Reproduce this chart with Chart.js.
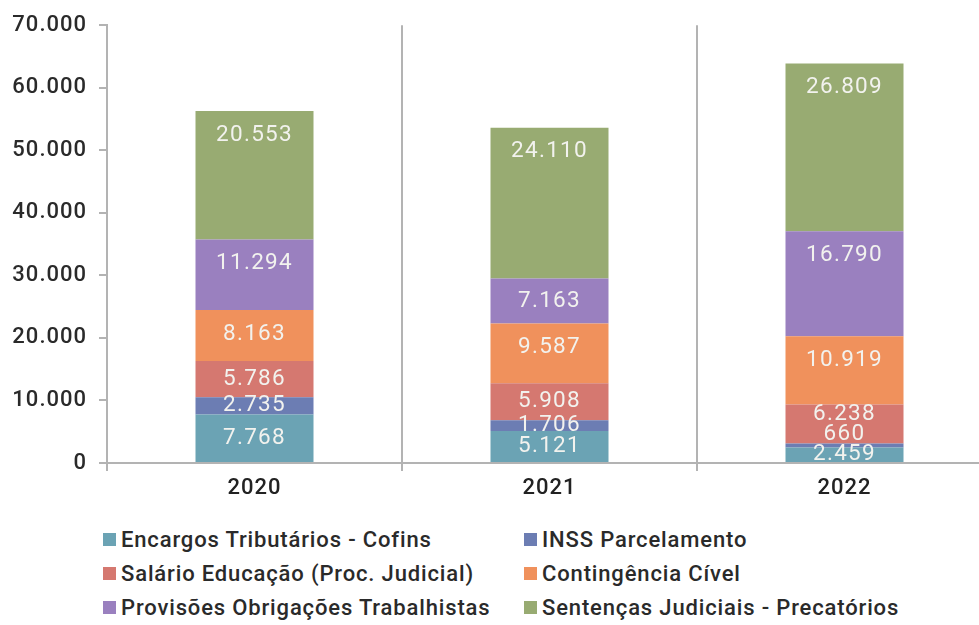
<!DOCTYPE html>
<html>
<head>
<meta charset="utf-8">
<script src="https://cdn.jsdelivr.net/npm/chart.js@4/dist/chart.umd.min.js"></script>
<style>
  html, body { margin: 0; padding: 0; background: #fff; overflow: hidden; }
  #wrap { position: relative; width: 992px; height: 510px; }
  #legend {
    position: absolute; left: 103px; top: 527px;
    display: grid; grid-template-columns: 421px 400px; row-gap: 10px;
    font-family: Roboto, "Noto Sans", sans-serif; font-size: 22px; font-weight: 500;
    letter-spacing: 0.85px; color: #2a2a2a;
  }
  #legend div { display: flex; align-items: center; height: 24px; white-space: nowrap; }
  #legend span.box { width: 13px; height: 13px; margin-right: 5px; display: inline-block; }
</style>
</head>
<body>
<div id="wrap"><canvas id="myChart" width="992" height="510"></canvas></div>
<div id="legend"></div>
<script>
// categories
const years = ["2020", "2021", "2022"];

// series (bottom to top)
const seriesNames = [
  "Encargos Tributários - Cofins",
  "INSS Parcelamento",
  "Salário Educação (Proc. Judicial)",
  "Contingência Cível",
  "Provisões Obrigações Trabalhistas",
  "Sentenças Judiciais - Precatórios"
];
const cofins = [7768, 5121, 2459];
const inss = [2735, 1706, 660];
const salarioEducacao = [5786, 5908, 6238];
const contingenciaCivel = [8163, 9587, 10919];
const provisoesTrabalhistas = [11294, 7163, 16790];
const precatorios = [20553, 24110, 26809];

const colors = ["#6ba3b4", "#6c7db3", "#d57870", "#f0915c", "#9a80bf", "#98ab72"];

const fmt = v => String(v).replace(/\B(?=(\d{3})+(?!\d))/g, ".");

const allSeries = [cofins, inss, salarioEducacao, contingenciaCivel, provisoesTrabalhistas, precatorios];

// wider tracking for the axis text
const spacing = {
  id: "spacing",
  beforeDraw(chart) { chart.ctx.letterSpacing = "1px"; }
};

// labels inside each segment, near the top for tall segments, pushed up if they collide
const segmentLabels = {
  id: "segmentLabels",
  afterDatasetsDraw(chart) {
    const ctx = chart.ctx;
    ctx.save();
    ctx.font = "22.5px Roboto, 'Noto Sans', sans-serif";
    ctx.letterSpacing = "1.3px";
    ctx.fillStyle = "#f2f2ee";
    ctx.textAlign = "center";
    ctx.textBaseline = "middle";
    years.forEach((y, i) => {
      let prevY = Infinity;
      chart.data.datasets.forEach((ds, d) => {
        const bar = chart.getDatasetMeta(d).data[i];
        const top = bar.y, bottom = bar.base;
        let ly = Math.min(top + 24, (top + bottom) / 2);
        if (ly > prevY - 20) ly = prevY - 20;
        prevY = ly;
        ctx.fillText(fmt(ds.data[i]), bar.x, ly);
      });
    });
    ctx.restore();
  }
};

Chart.defaults.font.family = "Roboto, 'Noto Sans', sans-serif";

new Chart(document.getElementById("myChart"), {
  type: "bar",
  data: {
    labels: years,
    datasets: allSeries.map((s, k) => ({
      label: seriesNames[k],
      data: s,
      backgroundColor: colors[k],
      borderWidth: 0,
      barPercentage: 0.4,
      categoryPercentage: 1
    }))
  },
  options: {
    responsive: false,
    animation: false,
    layout: { padding: { top: 14, right: 0, left: 0, bottom: 0 } },
    plugins: {
      legend: { display: false },
      tooltip: { enabled: false }
    },
    scales: {
      x: {
        stacked: true,
        grid: { color: "#b3b3b3", lineWidth: 2, tickLength: 8, offset: true },
        border: { color: "#b3b3b3", width: 2 },
        ticks: { color: "#222", font: { size: 22, weight: 500 }, padding: 4 },
        afterFit: s => { s.height = 47; }
      },
      y: {
        stacked: true,
        min: 0,
        max: 70000,
        grid: { drawOnChartArea: false, color: "#b3b3b3", lineWidth: 2, tickLength: 8 },
        border: { color: "#b3b3b3", width: 2 },
        ticks: { stepSize: 10000, color: "#2a2a2a", font: { size: 22, weight: 500 }, padding: 12, callback: v => fmt(v) },
        afterFit: s => { s.width = 107; }
      }
    }
  },
  plugins: [spacing, segmentLabels]
});

// legend in two columns
const legend = document.getElementById("legend");
seriesNames.forEach((name, k) => {
  const item = document.createElement("div");
  item.innerHTML = '<span class="box" style="background:' + colors[k] + '"></span>' + name;
  legend.appendChild(item);
});
</script>
</body>
</html>
